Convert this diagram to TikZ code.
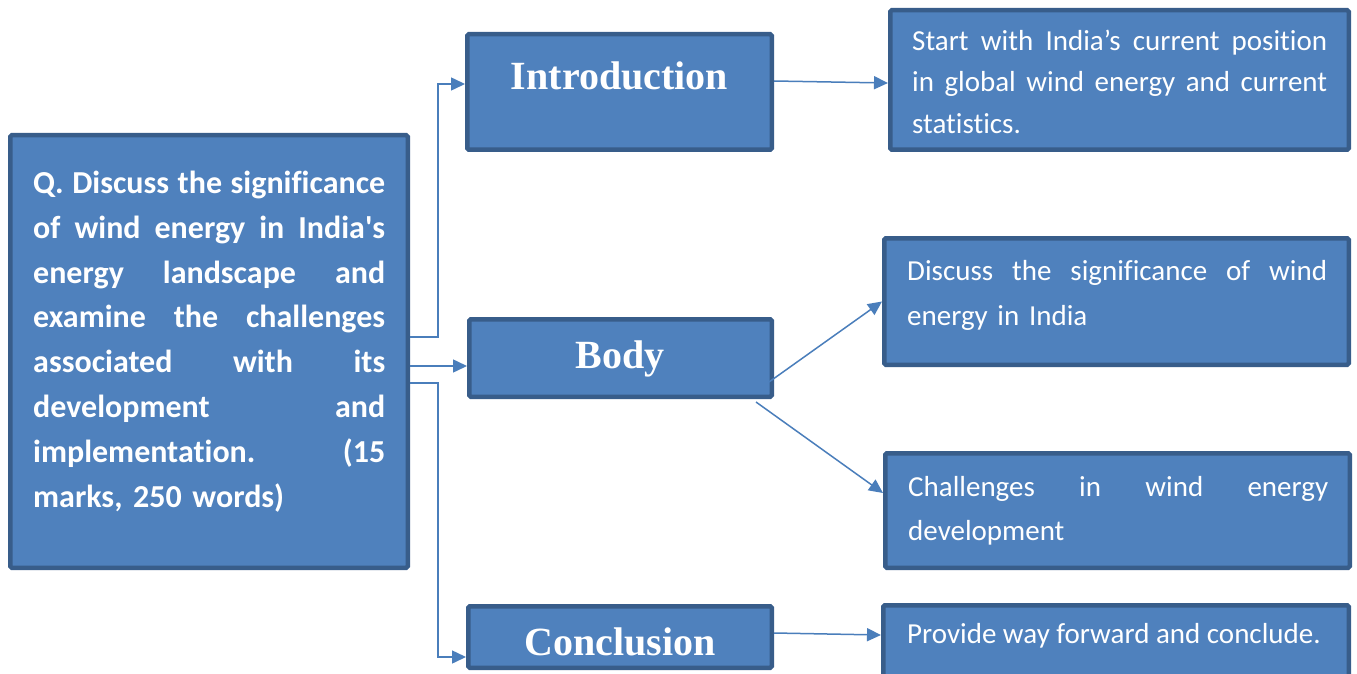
\documentclass[tikz,border=0pt]{standalone}
\usepackage{fontspec}
\setmainfont{Carlito}[Ligatures={TeXOff,NoCommon}]
\newfontfamily\titlefont{Liberation Serif}
\usetikzlibrary{arrows.meta}
\definecolor{boxfill}{HTML}{4F81BD}
\definecolor{boxline}{HTML}{385D8A}
\definecolor{connline}{HTML}{4A7EBB}
\begin{document}
\begin{tikzpicture}[x=1pt,y=-1pt,
  boxstyle/.style={draw=boxline, fill=boxfill, line width=4.5pt, rounded corners=1.5pt, inner sep=0pt},
  connstyle/.style={draw=connline, line width=1.5pt, -{Triangle[length=14pt,width=13pt]}},
  titletext/.style={text=white, font=\titlefont\bfseries\fontsize{40}{48}\selectfont, anchor=base, inner sep=0pt},
  paratext/.style={text=white, anchor=north west, inner sep=0pt, align=left}]
\fill[white] (0,0) rectangle (1357,674);
\useasboundingbox (0,0) rectangle (1357,674);
% boxes
\node[boxstyle, minimum width=397.5pt, minimum height=432.5pt] (q) at (209,351.5) {};
\node[boxstyle, minimum width=304.5pt, minimum height=115.5pt] (intro) at (619.5,92) {};
\node[boxstyle, minimum width=302.5pt, minimum height=77.5pt] (body) at (620.5,358) {};
\node[boxstyle, minimum width=303.5pt, minimum height=61.5pt] (concl) at (620,637) {};
\node[boxstyle, minimum width=458.5pt, minimum height=139.5pt] (r1) at (1119.5,80) {};
\node[boxstyle, minimum width=464.5pt, minimum height=126.5pt] (r2) at (1116.5,301.5) {};
\node[boxstyle, minimum width=464.5pt, minimum height=114.5pt] (r3) at (1117.5,510.5) {};
\node[boxstyle, minimum width=465.5pt, minimum height=92.5pt] (r4) at (1116,651.5) {};
% texts
\node[paratext, text width=352pt, font=\bfseries\fontsize{32}{44.8}\selectfont] (qt) at (33,161.9)
 {\strut Q.\hfill Discuss\hfill the\hfill significance\\
  of\hfill wind\hfill energy\hfill in\hfill India's\\
  energy\hfill landscape\hfill and\\
  examine\hfill the\hfill challenges\\
  associated\hfill with\hfill its\\
  development\hfill and\\
  implementation.\hfill (15\\
  marks, 250 words)};
\node[titletext] (introt) at (619.5,90) {Introduction};
\node[titletext] (bodyt) at (620,368) {Body};
\node[titletext] (conclt) at (620,655) {Conclusion};
\node[paratext, text width=415pt, font=\fontsize{29}{41.5}\selectfont] (r1t) at (912,20.95)
 {\strut Start\hfill with\hfill India’s\hfill current\hfill position\\
  in\hfill global\hfill wind\hfill energy\hfill and\hfill current\\
  statistics.};
\node[paratext, text width=420pt, font=\fontsize{29}{45}\selectfont] (r2t) at (907,248.5)
 {\strut Discuss\hfill the\hfill significance\hfill of\hfill wind\\
  energy in India};
\node[paratext, text width=420pt, font=\fontsize{29}{44}\selectfont] (r3t) at (908,465.2)
 {\strut Challenges\hfill in\hfill wind\hfill energy\\
  development};
\node[text=white, anchor=base west, inner sep=0pt, font=\fontsize{29}{41}\selectfont] (r4t) at (907,643)
 {Provide way forward and conclude.};
% connectors
\draw[connstyle] ([yshift=14.5pt]q.east) -- ++(28,0) |- ([yshift=8pt]intro.west);
\draw[connstyle] ([yshift=-14.5pt]q.east) -- ([yshift=-8pt]body.west);
\draw[connstyle] ([yshift=-31.5pt]q.east) -- ++(28,0) |- ([yshift=-20pt]concl.west);
\draw[connstyle] ([yshift=11pt]intro.east) -- ([yshift=-3pt]r1.west);
\draw[connstyle] ([xshift=-5pt,yshift=-24pt]body.east) -- (r2.west);
\draw[connstyle] ([xshift=-18pt,yshift=-3pt]body.south east) -- ([yshift=17.5pt]r3.west);
\draw[connstyle] ([yshift=4pt]concl.east) -- ([yshift=16.5pt]r4.west);
\end{tikzpicture}
\end{document}
